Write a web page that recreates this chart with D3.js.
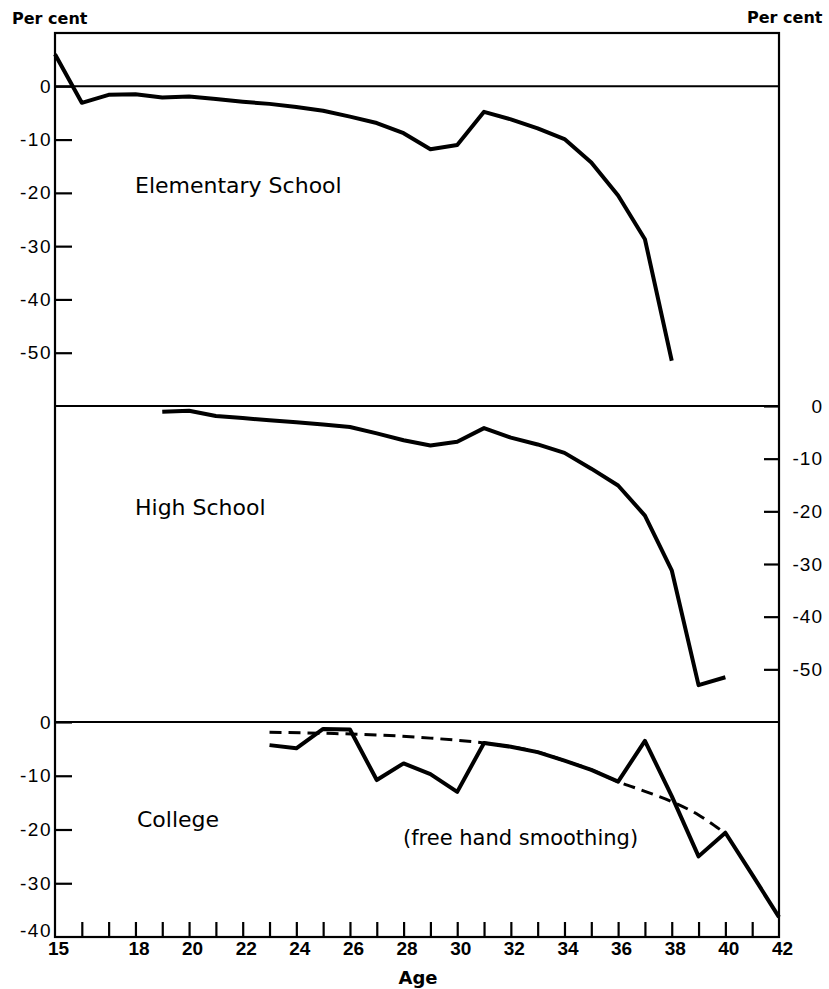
<!DOCTYPE html>
<html>
<head>
<meta charset="utf-8">
<script src="https://cdn.jsdelivr.net/npm/d3@7"></script>
<style>
  body { margin: 0; background: #fff; }
  svg { display: block; font-family: "DejaVu Sans", sans-serif; }
</style>
</head>
<body>
<script>
// ages and values (per cent)
var elemAges = d3.range(15, 39);
var elemValues = [6, -3.1, -1.6, -1.5, -2.1, -1.9, -2.4, -2.9, -3.3, -3.9, -4.6, -5.7,
                  -6.9, -8.8, -11.8, -11, -4.8, -6.2, -7.9, -9.9, -14.3, -20.5, -28.7, -51.5];

var highAges = d3.range(19, 41);
var highValues = [-1.1, -0.9, -1.9, -2.3, -2.7, -3.1, -3.5, -4, -5.2, -6.5, -7.5, -6.8,
                  -4.2, -6, -7.3, -8.9, -11.9, -15.1, -20.8, -31.2, -53, -51.5];

var collegeAges = d3.range(23, 43);
var collegeValues = [-4.3, -4.9, -1.3, -1.4, -10.8, -7.7, -9.7, -13, -3.9, -4.6, -5.6, -7.2,
                     -8.9, -11.1, -3.5, -13.8, -25, -20.6, -28.4, -36.3];

var smoothAges = [23, 25, 27, 29, 30, 31, 32, 33, 34, 35, 36, 37, 38, 39, 39.8];
var smoothValues = [-1.9, -2.1, -2.4, -3, -3.4, -3.9, -4.6, -5.6, -7.2, -8.9, -11.1,
                    -12.9, -14.8, -17.3, -20];

var leftTopTicks = [0, -10, -20, -30, -40, -50];
var rightMidTicks = [0, -10, -20, -30, -40, -50];
var leftBotTicks = [0, -10, -20, -30, -40];
var ageTicks = d3.range(15, 43);
var ageLabels = [15, 18, 20, 22, 24, 26, 28, 30, 32, 34, 36, 38, 40, 42];

var width = 829, height = 989;

var svg = d3.select("body").append("svg")
    .attr("width", width)
    .attr("height", height);

var x = d3.scaleLinear().domain([15, 42]).range([55, 779]);
var yTop = d3.scaleLinear().domain([10, -60]).range([33, 406]);
var yMid = d3.scaleLinear().domain([0, -60]).range([406, 722]);
var yBot = d3.scaleLinear().domain([0, -40]).range([722, 937]);

// frame and panel lines
svg.append("rect")
    .attr("x", x(15)).attr("y", yTop(10))
    .attr("width", x(42) - x(15)).attr("height", yBot(-40) - yTop(10))
    .attr("fill", "none").attr("stroke", "#000").attr("stroke-width", 2.2);

[yTop(0), yMid(0), yBot(0)].forEach(function (yy) {
    svg.append("line")
        .attr("x1", x(15)).attr("x2", x(42))
        .attr("y1", yy).attr("y2", yy)
        .attr("stroke", "#000").attr("stroke-width", 2);
});

function styleAxis(g, size, weight) {
    g.select(".domain").remove();
    g.selectAll(".tick line").attr("stroke", "#000").attr("stroke-width", 2.2);
    g.selectAll(".tick text")
        .attr("fill", "#000")
        .style("font-size", size + "px")
        .style("font-weight", weight);
}

function fmt(d) { return d === 0 ? "0" : "-" + Math.abs(d); }

// left axis, elementary
var gTop = svg.append("g")
    .attr("transform", "translate(" + x(15) + ",0)")
    .call(d3.axisLeft(yTop).tickValues(leftTopTicks).tickSize(-17).tickPadding(3).tickFormat(fmt));
styleAxis(gTop, 19, "normal");
gTop.selectAll(".tick text").attr("letter-spacing", "1.5px");

// left axis, college
var gBot = svg.append("g")
    .attr("transform", "translate(" + x(15) + ",0)")
    .call(d3.axisLeft(yBot).tickValues(leftBotTicks).tickSize(-17).tickPadding(3).tickFormat(fmt));
styleAxis(gBot, 19, "normal");
gBot.selectAll(".tick text").attr("letter-spacing", "1.5px");
gBot.selectAll(".tick").filter(function (d) { return d === -40; })
    .select("text").attr("dy", "-0.05em");
gBot.selectAll(".tick").filter(function (d) { return d === -40; })
    .select("line").remove();

// right axis, high school
var gMid = svg.append("g")
    .attr("transform", "translate(" + x(42) + ",0)")
    .call(d3.axisRight(yMid).tickValues(rightMidTicks).tickSize(-15).tickFormat(fmt));
styleAxis(gMid, 19, "normal");
gMid.selectAll(".tick text")
    .attr("x", 44)
    .attr("text-anchor", "end")
    .attr("letter-spacing", "1px");

// age axis
var gX = svg.append("g")
    .attr("transform", "translate(0," + yBot(-40) + ")")
    .call(d3.axisBottom(x).tickValues(ageTicks).tickSize(-15).tickPadding(5)
        .tickFormat(function (d) { return ageLabels.indexOf(d) >= 0 ? d : ""; }));
styleAxis(gX, 19, "bold");
gX.selectAll(".tick text").attr("dx", "3px");
gX.selectAll(".tick").filter(function (d) { return d === 15 || d === 42; })
    .select("line").remove();

// series lines
function drawLine(ages, vals, y, dash, curve) {
    var line = d3.line()
        .x(function (d) { return x(d[0]); })
        .y(function (d) { return y(d[1]); });
    if (curve) line.curve(curve);
    svg.append("path")
        .datum(d3.zip(ages, vals))
        .attr("d", line)
        .attr("fill", "none")
        .attr("stroke", "#000")
        .attr("stroke-width", dash ? 3 : 4)
        .attr("stroke-linejoin", "round")
        .attr("stroke-dasharray", dash ? "12,7" : null);
}

drawLine(smoothAges, smoothValues, yBot, true, d3.curveMonotoneX);
drawLine(elemAges, elemValues, yTop, false);
drawLine(highAges, highValues, yMid, false);
drawLine(collegeAges, collegeValues, yBot, false);

// labels
function label(txt, xx, yy, size, weight) {
    svg.append("text")
        .attr("x", xx).attr("y", yy)
        .style("font-size", size + "px")
        .style("font-weight", weight || "normal")
        .text(txt);
}

label("Per cent", 12, 24, 16, "bold");
label("Per cent", 747, 23, 16, "bold");
label("Elementary School", 135, 193, 22);
label("High School", 135, 515, 22);
label("College", 137, 827, 22);
label("(free hand smoothing)", 403, 845, 21);

svg.append("text")
    .attr("x", 418).attr("y", 984)
    .attr("text-anchor", "middle")
    .style("font-size", "18px")
    .style("font-weight", "bold")
    .text("Age");
</script>
</body>
</html>
